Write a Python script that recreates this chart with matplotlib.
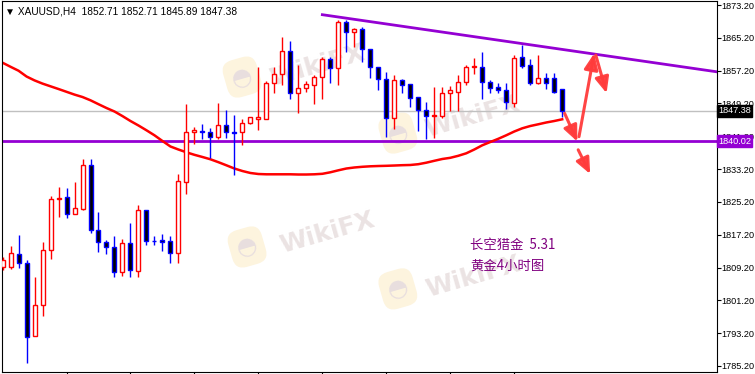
import numpy as np
import matplotlib.pyplot as plt
from matplotlib.patches import FancyArrowPatch
from matplotlib.transforms import blended_transform_factory

# XAUUSD H4 candles (oldest -> newest)
opens = [1809.33, 1809.26, 1812.43, 1810.23, 1792.44, 1799.99, 1813.40, 1825.79, 1826.32, 1822.18,
         1823.54, 1834.12, 1818.28, 1815.35, 1814.13, 1808.04, 1815.11, 1808.28, 1823.15, 1815.74,
         1815.91, 1815.67, 1812.67, 1830.12, 1842.17, 1842.39, 1842.17, 1841.09, 1843.87, 1842.24,
         1842.17, 1844.36, 1845.34, 1845.34, 1854.11, 1856.31, 1861.91, 1851.68, 1852.89, 1853.63,
         1855.58, 1859.96, 1857.96, 1868.98, 1866.55, 1867.28, 1862.40, 1858.16, 1855.09, 1845.58,
         1854.92, 1853.87, 1850.70, 1847.53, 1846.14, 1846.07, 1851.68, 1852.07, 1854.36, 1858.09,
         1858.16, 1854.36, 1853.14, 1852.48, 1849.24, 1860.45, 1858.57, 1854.11, 1855.33, 1855.33,
         1852.71]
highs = [1811.69, 1814.45, 1817.13, 1811.04, 1806.97, 1815.42, 1826.64, 1828.83, 1828.59, 1830.05,
         1835.66, 1835.66, 1822.74, 1815.91, 1816.89, 1816.08, 1820.06, 1824.44, 1823.15, 1816.89,
         1817.38, 1816.89, 1832.00, 1848.99, 1843.53, 1844.19, 1843.14, 1849.24, 1847.60, 1846.39,
         1845.34, 1845.82, 1858.01, 1854.60, 1858.16, 1865.47, 1864.50, 1858.57, 1854.67, 1856.14,
         1860.45, 1860.45, 1869.54, 1869.54, 1867.52, 1867.76, 1862.40, 1858.16, 1856.94, 1856.14,
         1855.16, 1853.87, 1850.70, 1849.55, 1853.14, 1853.14, 1853.53, 1856.14, 1858.50, 1860.35,
         1861.82, 1854.92, 1854.11, 1854.11, 1860.94, 1863.45, 1860.04, 1861.01, 1856.55, 1856.55,
         1852.71]
lows = [1808.60, 1808.77, 1809.01, 1786.00, 1792.44, 1797.46, 1811.35, 1821.59, 1821.35, 1822.18,
        1823.23, 1817.55, 1813.06, 1812.43, 1806.97, 1807.21, 1806.97, 1806.82, 1814.77, 1814.69,
        1813.30, 1810.38, 1810.38, 1827.05, 1839.32, 1840.53, 1835.83, 1840.53, 1840.70, 1831.76,
        1839.07, 1844.12, 1842.73, 1845.34, 1851.68, 1853.63, 1850.21, 1846.80, 1851.92, 1848.99,
        1850.21, 1854.31, 1853.70, 1861.82, 1863.04, 1859.38, 1855.33, 1852.48, 1841.09, 1842.97,
        1851.82, 1848.26, 1842.56, 1840.46, 1840.85, 1845.58, 1847.43, 1847.43, 1853.70, 1856.38,
        1850.21, 1851.68, 1851.87, 1847.85, 1848.29, 1857.92, 1853.70, 1853.87, 1852.72, 1851.68,
        1845.89]
closes = [1811.04, 1812.67, 1810.23, 1792.19, 1800.07, 1813.47, 1825.83, 1826.03, 1822.18, 1823.64,
          1834.12, 1818.28, 1815.35, 1814.13, 1808.04, 1815.11, 1808.53, 1823.15, 1815.60, 1815.60,
          1815.50, 1812.67, 1830.22, 1842.17, 1842.73, 1842.24, 1841.09, 1843.87, 1842.17, 1842.09,
          1844.36, 1845.82, 1845.82, 1854.11, 1856.31, 1861.91, 1851.68, 1852.89, 1853.87, 1855.58,
          1859.96, 1857.96, 1868.98, 1866.55, 1867.28, 1862.40, 1858.16, 1855.09, 1845.58, 1854.92,
          1853.63, 1850.60, 1847.53, 1846.07, 1846.29, 1851.68, 1852.48, 1854.36, 1858.01, 1858.23,
          1854.36, 1853.09, 1852.55, 1849.48, 1860.21, 1858.40, 1854.11, 1855.33, 1854.11, 1852.07,
          1847.38]
# moving average (red line)
ma = [1859.13, 1858.14, 1857.18, 1855.77, 1854.82, 1854.04, 1853.38, 1852.72, 1852.04, 1851.36,
      1850.77, 1849.97, 1849.02, 1848.09, 1847.24, 1846.12, 1844.92, 1843.83, 1842.66, 1841.44,
      1840.05, 1838.71, 1837.97, 1837.29, 1836.68, 1836.15, 1835.59, 1834.88, 1834.12, 1833.34,
      1832.73, 1832.25, 1832.00, 1831.93, 1831.93, 1831.93, 1831.93, 1831.88, 1831.88, 1831.93,
      1832.05, 1832.42, 1832.90, 1833.34, 1833.59, 1833.76, 1833.88, 1833.95, 1834.00, 1834.07,
      1834.15, 1834.20, 1834.39, 1834.76, 1835.22, 1835.66, 1835.95, 1836.44, 1837.05, 1837.97,
      1839.00, 1839.80, 1840.58, 1841.44, 1842.36, 1843.14, 1843.70, 1844.12, 1844.56, 1844.92,
      1845.34]

price_ticks = [1785.20, 1793.20, 1801.20, 1809.20, 1817.20, 1825.20, 1833.20,
               1841.20, 1849.20, 1857.20, 1865.20, 1873.20]
support = 1840.02
bid = 1847.38
trend_bars = [40, 89.3]
trend_prices = [1870.84, 1856.93]
header = "▼ XAUUSD,H4  1852.71 1852.71 1845.89 1847.38"
note_lines = ["长空猎金  5.31", "黄金4小时图"]

# sketched arrows (bar, price) -> (bar, price)
arrows = [((70.3, 1846.8), (71.9, 1839.9)),
          ((72.1, 1841.1), (74.0, 1861.4)),
          ((74.2, 1861.0), (75.55, 1851.7)),
          ((72.0, 1837.9), (73.5, 1832.0))]

purple = '#9400d3'
ui_font = ['Liberation Sans', 'DejaVu Sans']

fig = plt.figure(figsize=(7.55, 3.74), dpi=100)
ax = fig.add_axes([2 / 755, 2 / 374, 714.5 / 755, 371 / 374])

o = np.array(opens); h = np.array(highs); l = np.array(lows); c = np.array(closes)
x = np.arange(len(o))
up = c >= o

# watermarks
wm = '#ebe3e3'
for lx, ly, tx, ty in [(0.336, 0.795, 0.441, 0.825), (0.554, 0.644, 0.658, 0.687),
                       (0.343, 0.337, 0.455, 0.375), (0.554, 0.224, 0.659, 0.256)]:
    ax.text(lx, ly, '◓', transform=ax.transAxes, fontsize=17, color='#e8dede',
            ha='center', va='center', rotation=16, zorder=0,
            bbox=dict(boxstyle='round,pad=0.3,rounding_size=0.5', fc='#fdf4de', ec='none'))
    ax.text(tx, ty, 'WikiFX', transform=ax.transAxes, fontsize=18, fontweight='bold',
            color=wm, ha='center', va='center', rotation=16, zorder=0)

ax.axhline(bid, color='#c0c0c0', lw=1.0, zorder=1)
ax.axhline(support, color=purple, lw=2.0, zorder=1.5)
ax.plot(trend_bars, trend_prices, color=purple, lw=2.0, zorder=1.5)
ax.plot(x, ma, color='#ff0000', lw=1.8, zorder=2)

ax.vlines(x[up], l[up], h[up], color='#ff0000', lw=1.0, zorder=3)
ax.vlines(x[~up], l[~up], h[~up], color='#0000ff', lw=1.0, zorder=3)
ax.bar(x[up], np.abs(c - o)[up], bottom=np.minimum(o, c)[up], width=0.5,
       facecolor='white', edgecolor='#ff0000', lw=1.0, zorder=4)
ax.bar(x[~up], np.abs(c - o)[~up], bottom=np.minimum(o, c)[~up], width=0.5,
       facecolor='black', edgecolor='#0000ff', lw=1.0, zorder=4)

for (x0, y0), (x1, y1) in arrows:
    ax.add_patch(FancyArrowPatch((x0, y0), (x1, y1), arrowstyle='-|>,head_length=0.8,head_width=0.35',
                                 mutation_scale=12, color='#ff3b3b', lw=2.2, shrinkA=0, shrinkB=0,
                                 alpha=0.95, zorder=6))

cjk = ['Noto Sans CJK SC', 'DejaVu Sans']
ax.text(58.5, 1814.7, note_lines[0], family=cjk, fontsize=9.6, color='#800080', va='center', zorder=7)
ax.text(58.5, 1809.7, note_lines[1], family=cjk, fontsize=9.6, color='#800080', va='center', zorder=7)

ax.text(0.004, 0.985, header, transform=ax.transAxes, fontsize=7.3, family=ui_font,
        va='top', ha='left', zorder=7)

ax.set_xlim(-0.07, 89.3)
ax.set_ylim(1783.73, 1874.18)
ax.set_xticks(np.arange(8, 65, 8))
ax.set_xticklabels([])
ax.yaxis.tick_right()
ax.set_yticks(price_ticks)
ax.set_yticklabels([f'{p:.2f}' for p in price_ticks], family=ui_font)
ax.tick_params(axis='y', length=3, width=0.8, pad=0.8, labelsize=6.6)
ax.tick_params(axis='x', length=3, width=0.8, direction='out')
for s in ax.spines.values():
    s.set_linewidth(0.8)

tr = blended_transform_factory(ax.transAxes, ax.transData)
ax.text(1.002, bid, f'{bid:.2f}', transform=tr, fontsize=6.6, family=ui_font, color='white',
        va='center', ha='left', bbox=dict(boxstyle='square,pad=0.15', fc='black', ec='black'),
        zorder=10, clip_on=False)
ax.text(1.002, support, f'{support:.2f}', transform=tr, fontsize=6.6, family=ui_font, color='white',
        va='center', ha='left', bbox=dict(boxstyle='square,pad=0.15', fc=purple, ec=purple),
        zorder=10, clip_on=False)

fig.savefig('out.png', dpi=100)
